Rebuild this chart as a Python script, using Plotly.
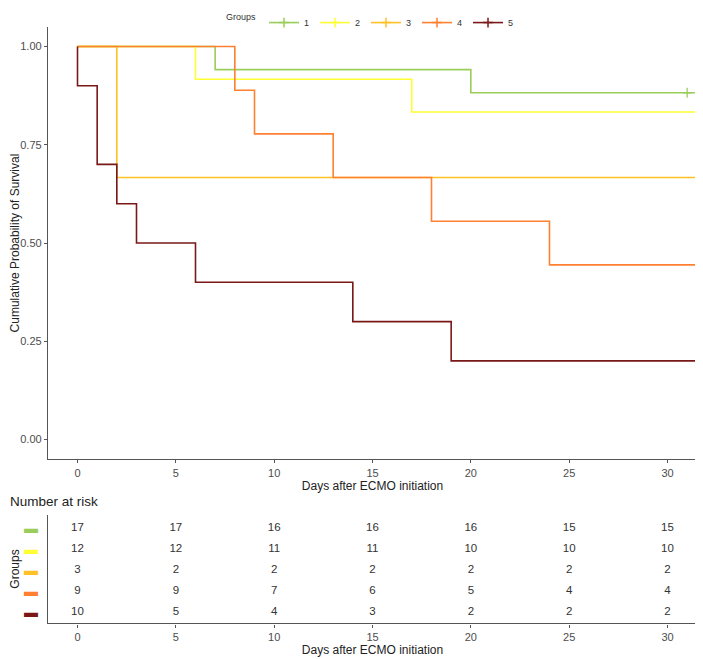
import plotly.graph_objects as go

# ---- data ----
groups = ["1", "2", "3", "4", "5"]
colors = ["#9ACD5A", "#FFFF33", "#FFC125", "#FF8030", "#7A1818"]

g1_days = [0, 7, 20, 31.5]
g1_surv = [1.0, 16/17, 15/17, 15/17]
g2_days = [0, 6, 17, 31.5]
g2_surv = [1.0, 11/12, 10/12, 10/12]
g3_days = [0, 2, 31.5]
g3_surv = [1.0, 2/3, 2/3]
g4_days = [0, 8, 9, 13, 18, 24, 31.5]
g4_surv = [1.0, 8/9, 7/9, 6/9, 5/9, 4/9, 4/9]
g5_days = [0, 0, 1, 2, 3, 6, 14, 19, 31.5]
g5_surv = [1.0, 0.9, 0.7, 0.6, 0.5, 0.4, 0.3, 0.2, 0.2]

censor_days = {"1": [31]}
censor_surv = {"1": [15/17]}

risk_times = [0, 5, 10, 15, 20, 25, 30]
risk_g1 = [17, 17, 16, 16, 16, 15, 15]
risk_g2 = [12, 12, 11, 11, 10, 10, 10]
risk_g3 = [3, 2, 2, 2, 2, 2, 2]
risk_g4 = [9, 9, 7, 6, 5, 4, 4]
risk_g5 = [10, 5, 4, 3, 2, 2, 2]

curves = [(g1_days, g1_surv), (g2_days, g2_surv), (g3_days, g3_surv),
          (g4_days, g4_surv), (g5_days, g5_surv)]
risks = [risk_g1, risk_g2, risk_g3, risk_g4, risk_g5]

# page body has an 8px default margin; lay out in page pixels minus that offset
OFF = 8
W, H = 703 - OFF, 659 - OFF
def xfrac(px):
    return (px - OFF) / W
def yfrac(px):
    return 1 - (px - OFF) / H
def ydom(top_px, bot_px):
    return [yfrac(bot_px), yfrac(top_px)]

fig = go.Figure()

for g, col, (xd, yd) in zip(groups, colors, curves):
    fig.add_trace(go.Scatter(x=xd, y=yd, mode="lines", line=dict(color=col, width=1.6, shape="hv"),
                             showlegend=False, legendgroup=g, xaxis="x", yaxis="y"))
    if g in censor_days:
        fig.add_trace(go.Scatter(x=censor_days[g], y=censor_surv[g], mode="markers",
                                 marker=dict(symbol="cross-thin", size=7, line=dict(color=col, width=1.3)),
                                 showlegend=False, legendgroup=g, xaxis="x", yaxis="y"))
    # legend entry
    fig.add_trace(go.Scatter(x=[None], y=[None], mode="lines+markers", name=g, legendgroup=g,
                             line=dict(color=col, width=1.6),
                             marker=dict(symbol="cross-thin", size=7, line=dict(color=col, width=1.5)),
                             xaxis="x", yaxis="y"))

# risk table
nrow = len(groups)
for i, (g, r) in enumerate(zip(groups, risks)):
    fig.add_trace(go.Scatter(x=risk_times, y=[nrow - i] * len(risk_times), mode="text",
                             text=[str(v) for v in r], textposition="middle center",
                             textfont=dict(size=11.5, color="#333333", family="Liberation Sans, Arial"),
                             showlegend=False, hoverinfo="skip", xaxis="x2", yaxis="y2"))

axis_common = dict(showline=True, linecolor="#555555", linewidth=1.3, showgrid=False, zeroline=False,
                   ticks="outside", ticklen=3, tickcolor="#555555", tickwidth=1, automargin=False,
                   tickfont=dict(size=11, color="#4D4D4D"))

fig.update_layout(
    width=W, height=H,
    margin=dict(l=0, r=0, t=0, b=0),
    paper_bgcolor="white", plot_bgcolor="white",
    font=dict(family="Liberation Sans, Arial", color="#222222"),
    xaxis=dict(domain=[xfrac(48), xfrac(697)], range=[-1.5, 31.5], tickvals=[0, 5, 10, 15, 20, 25, 30],
               title=dict(text="Days after ECMO initiation", font=dict(size=12, color="#222222"), standoff=0),
               anchor="y", **axis_common),
    yaxis=dict(domain=ydom(20, 457), range=[-0.05, 1.05], tickvals=[0, 0.25, 0.5, 0.75, 1.0],
               ticktext=["0.00", "0.25", "0.50", "0.75", "1.00"],
               title=dict(text="Cumulative Probability of Survival", font=dict(size=12, color="#222222"), standoff=8),
               anchor="x", **axis_common),
    xaxis2=dict(domain=[xfrac(48), xfrac(697)], range=[-1.5, 31.5], tickvals=[0, 5, 10, 15, 20, 25, 30],
                title=dict(text="Days after ECMO initiation", font=dict(size=12, color="#222222"), standoff=0),
                anchor="y2", **axis_common),
    yaxis2=dict(domain=ydom(513, 623), range=[0.48, 5.66], tickvals=[5, 4, 3, 2, 1],
                ticktext=[f'<span style="color:{c}">▬</span>' for c in colors],
                showline=True, linecolor="#555555", linewidth=1.3, showgrid=False, zeroline=False,
                ticks="", tickfont=dict(size=14), automargin=False, ticklabelstandoff=6,
                title=dict(text="Groups", font=dict(size=12, color="#222222"), standoff=6),
                anchor="x2"),
    legend=dict(orientation="h", x=xfrac(372), xanchor="center", y=yfrac(1), yanchor="top",
                font=dict(size=9, color="#333333"), itemwidth=30, entrywidth=6,
                title=dict(text="Groups", font=dict(size=9, color="#333333")),
                bgcolor="rgba(0,0,0,0)", tracegroupgap=0),
    annotations=[dict(text="Number at risk", x=xfrac(8), y=yfrac(500), xref="paper", yref="paper",
                      xanchor="left", yanchor="middle", showarrow=False,
                      font=dict(size=13.5, color="#222222"))],
)

fig.write_html("out.html")
